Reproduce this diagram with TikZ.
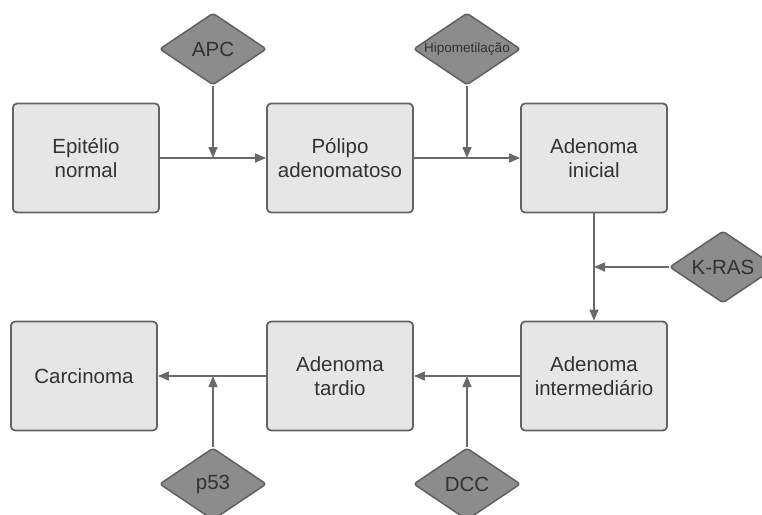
\documentclass[tikz,border=0pt]{standalone}
\usepackage{fontspec}
\setmainfont{Liberation Sans}
\usepackage{xcolor}
\definecolor{caixafundo}{RGB}{230, 230, 230}
\definecolor{caixaborda}{RGB}{100, 100, 100}
\definecolor{genefundo}{RGB}{140, 140, 140}
\definecolor{geneborda}{RGB}{95, 95, 95}
\definecolor{seta}{RGB}{105, 105, 105}
\definecolor{texto}{RGB}{50, 50, 50}
\usetikzlibrary{arrows.meta, shapes.geometric}

\begin{document}
\begin{tikzpicture}[x=1pt, y=-1pt, >={Triangle[length=11pt, width=9pt]},
    etapa/.style={draw=caixaborda, fill=caixafundo, line width=1.8pt, rounded corners=4pt,
        minimum width=146pt, minimum height=109pt, align=center, text=texto,
        font=\fontsize{20.5}{23.5}\selectfont},
    gene/.style={diamond, aspect=1.5, draw=geneborda, fill=genefundo, line width=1.5pt, rounded corners=3pt,
        minimum width=107pt, minimum height=72pt, inner sep=0pt, text=texto,
        font=\fontsize{20.5}{23.5}\selectfont},
    liga/.style={->, draw=seta, line width=1.5pt}]

\useasboundingbox (0,0) rectangle (762,514);

% === Etapas (caixas) ===
\node[etapa] (epi) at (86, 158) {Epitélio\\normal};
\node[etapa] (polipo) at (340, 158) {Pólipo\\adenomatoso};
\node[etapa] (inicial) at (594, 158) {Adenoma\\inicial};
\node[etapa] (inter) at (594, 376) {Adenoma\\intermediário};
\node[etapa] (tardio) at (340, 376) {Adenoma\\tardio};
\node[etapa] (carc) at (84, 376) {Carcinoma};

% === Genes (losangos) ===
\node[gene] (apc) at (213, 49) {APC};
\node[gene, font=\fontsize{13.5}{15}\selectfont] (hipo) at (467, 49) {\makebox[0pt]{Hipometilação}};
\node[gene] (kras) at (723, 267) {K-RAS};
\node[gene] (p53) at (213, 484) {p53};
\node[gene] (dcc) at (467, 484) {DCC};

% Pontos de encontro
\coordinate (japc) at (apc |- epi.east);
\coordinate (jhipo) at (hipo |- polipo.east);
\coordinate (jkras) at (inicial.south |- kras.west);
\coordinate (jdcc) at (dcc |- inter.west);
\coordinate (jp53) at (p53 |- tardio.west);

% === Progressão ===
\draw[liga] (epi) -- (polipo);
\draw[liga] (polipo) -- (inicial);
\draw[liga] (inicial) -- (inter);
\draw[liga] (inter) -- (tardio);
\draw[liga] (tardio) -- (carc);

% === Mutações ===
\draw[liga] (apc) -- (japc);
\draw[liga] (hipo) -- (jhipo);
\draw[liga] (kras) -- (jkras);
\draw[liga] (dcc) -- (jdcc);
\draw[liga] (p53) -- (jp53);

\end{tikzpicture}
\end{document}
